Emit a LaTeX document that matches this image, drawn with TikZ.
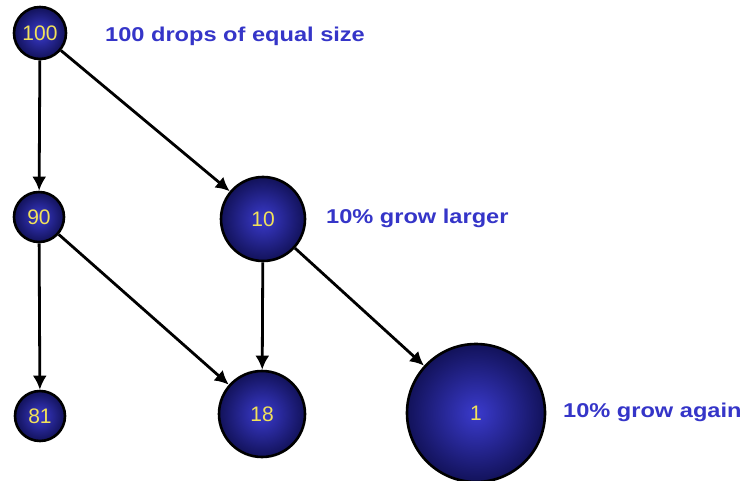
\documentclass[tikz,border=0pt]{standalone}
\usepackage{fontspec}
\setmainfont{Liberation Sans}
\newfontfamily\lblfont[FakeStretch=1.18]{Liberation Sans}
\newfontfamily\numfont{Liberation Sans}
\usetikzlibrary{arrows.meta}
\definecolor{lbl}{HTML}{3535C8}
\definecolor{numc}{HTML}{F2E25A}
\definecolor{dropin}{HTML}{3A3ACC}
\definecolor{dropout}{HTML}{12125A}
\tikzset{
  drop/.style={circle, draw=black, line width=2.6pt, inner sep=0pt,
    inner color=dropin, outer color=dropout, text=numc,
    font=\numfont\fontsize{21}{21}\selectfont},
  lbltext/.style={anchor=west, text=lbl, font=\lblfont\bfseries\fontsize{20}{20}\selectfont, inner sep=0pt},
  conn/.style={line width=2.8pt, -{Latex[length=14pt,width=14pt]}}
}
\begin{document}
\begin{tikzpicture}[x=1pt,y=-1pt]
\useasboundingbox (0,0) rectangle (746,481);
\node[drop, minimum size=52pt] (n100) at (40,33) {100};
\node[drop, minimum size=50pt] (n90) at (39,217) {90};
\node[drop, minimum size=50pt] (n81) at (40,416) {81};
\node[drop, minimum size=84pt] (n10) at (263,219) {10};
\node[drop, minimum size=86pt] (n18) at (262,414) {18};
\node[drop, minimum size=138pt] (n1) at (476,413) {1};
\node[lbltext] (l100) at (105,36) {100 drops of equal size};
\node[lbltext] (l10) at (326,218) {10\% grow larger};
\node[lbltext] (l1) at (563,412) {10\% grow again};
\draw[conn] (n100) -- (n90);
\draw[conn] (n100) -- (n10);
\draw[conn] (n90) -- (n81);
\draw[conn] (n90) -- (n18);
\draw[conn] (n10) -- (n18);
\draw[conn] (n10) -- (n1);
\end{tikzpicture}
\end{document}
